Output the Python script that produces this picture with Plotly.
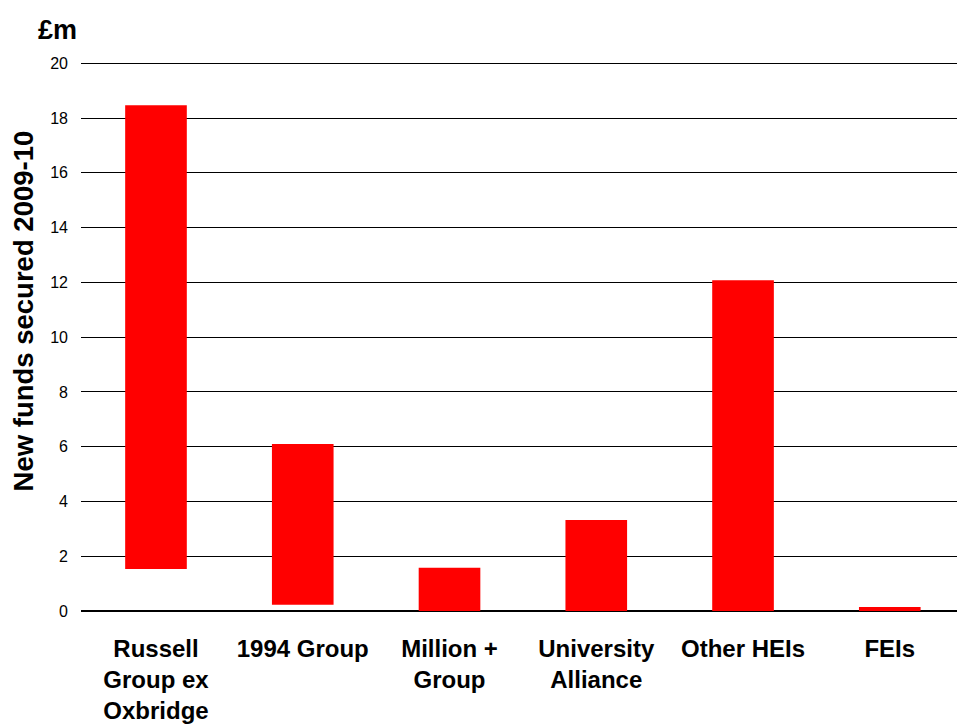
import plotly.graph_objects as go

categories = ["Russell<br>Group ex<br>Oxbridge", "1994 Group", "Million +<br>Group",
              "University<br>Alliance", "Other HEIs", "FEIs"]
bottoms = [1.53, 0.23, 0.0, 0.0, 0.0, 0.0]
tops = [18.47, 6.1, 1.58, 3.32, 12.08, 0.15]
y_ticks = [0, 2, 4, 6, 8, 10, 12, 14, 16, 18, 20]

heights = [t - b for t, b in zip(tops, bottoms)]

fig = go.Figure()
fig.add_trace(go.Bar(
    x=categories, y=heights, base=bottoms,
    marker=dict(color="#ff0000", line=dict(width=0)),
    width=0.42, hoverinfo="skip",
))

fig.update_layout(
    width=957, height=725,
    margin=dict(l=81, r=0, t=60, b=114),
    paper_bgcolor="white", plot_bgcolor="white",
    showlegend=False,
    font=dict(family="Arial, Liberation Sans, sans-serif", color="black"),
    xaxis=dict(
        tickfont=dict(size=24, family="Arial, Liberation Sans, sans-serif", color="black", weight="bold"),
        showgrid=False, showline=False, ticks="", ticklabelstandoff=21,
        range=[-0.511, 5.458], automargin=False,
    ),
    yaxis=dict(
        range=[0, 20.12], tickvals=y_ticks,
        tickfont=dict(size=16, color="black"),
        showgrid=True, gridcolor="black", gridwidth=1,
        zeroline=True, zerolinecolor="black", zerolinewidth=1.5,
        showline=False, ticks="", ticklabelstandoff=12, automargin=False,
    ),
    annotations=[
        dict(text="<b>£m</b>", xref="paper", yref="paper", x=-0.027, y=1.055,
             xanchor="center", yanchor="middle", showarrow=False,
             font=dict(size=27, color="black")),
        dict(text="<b>New funds secured 2009-10</b>", xref="paper", yref="paper",
             x=-0.066, y=0.544, textangle=-90, xanchor="center", yanchor="middle",
             showarrow=False, font=dict(size=27.5, color="black")),
    ],
)

fig.write_html(
    "out.html",
    config={"displayModeBar": False},
    post_script="document.body.style.margin='0';document.body.style.overflow='hidden';",
)
